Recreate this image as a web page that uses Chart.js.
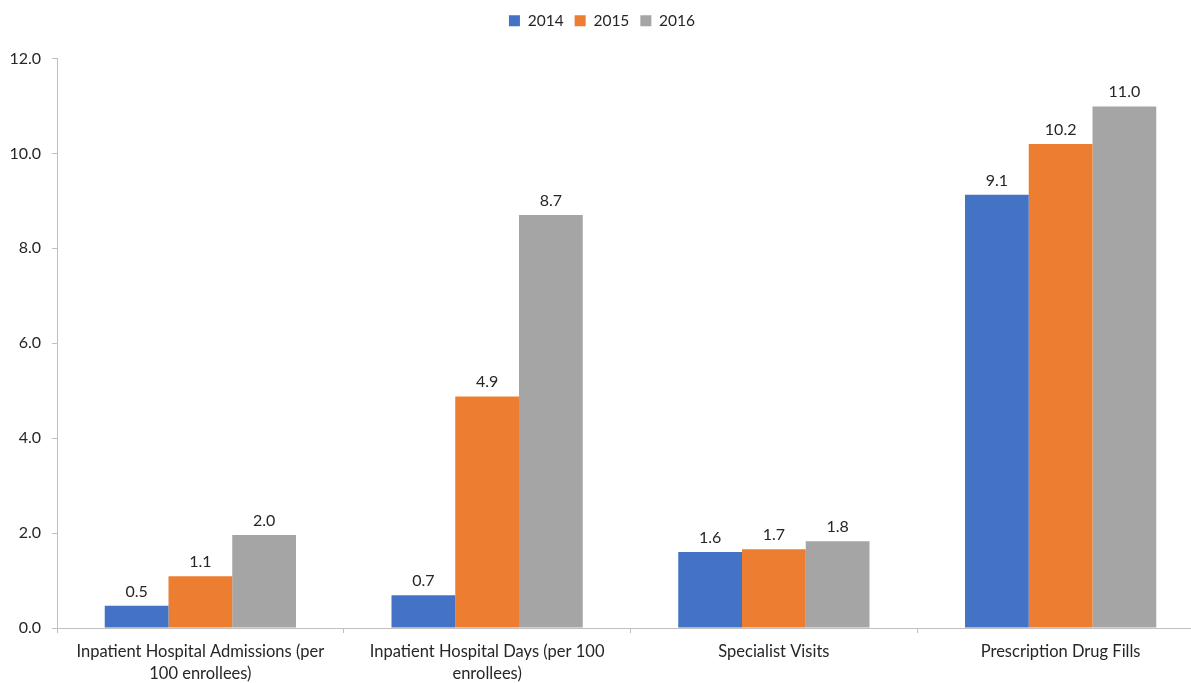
<!DOCTYPE html>
<html>
<head>
<meta charset="utf-8">
<script src="https://cdn.jsdelivr.net/npm/chart.js@4/dist/chart.umd.min.js"></script>
<style>
html, body { margin: 0; padding: 0; overflow: hidden; background: #fff; }
#wrap { position: relative; width: 1204px; height: 683px; }
</style>
</head>
<body>
<div id="wrap"><canvas id="c"></canvas></div>
<script>
const categories = [
  ["Inpatient Hospital Admissions (per", "100 enrollees)"],
  ["Inpatient Hospital Days (per 100", "enrollees)"],
  ["Specialist Visits"],
  ["Prescription Drug Fills"]
];
const seriesNames = ["2014", "2015", "2016"];
const values2014 = [0.47, 0.69, 1.60, 9.13];
const values2015 = [1.09, 4.88, 1.66, 10.20];
const values2016 = [1.96, 8.70, 1.83, 10.99];
const yTicks = [0, 2, 4, 6, 8, 10, 12];
const colors = ["#4472C4", "#ED7D31", "#A5A5A5"];

const FONT = "Lato, 'Open Sans', sans-serif";
const TEXT = "#262626";

const dataLabels = {
  id: 'dataLabels',
  afterDatasetsDraw(chart) {
    const ctx = chart.ctx;
    ctx.save();
    ctx.font = "16px " + FONT;
    ctx.fillStyle = TEXT;
    ctx.textAlign = 'center';
    ctx.textBaseline = 'alphabetic';
    chart.data.datasets.forEach((ds, i) => {
      const meta = chart.getDatasetMeta(i);
      meta.data.forEach((el, j) => {
        ctx.fillText(ds.data[j].toFixed(1), el.x, el.y - 9);
      });
    });
    ctx.restore();
  }
};

const legendSpace = {
  id: 'legendSpace',
  afterInit(chart) {
    const lg = chart.legend;
    if (lg && !lg._patched) {
      const orig = lg.fit;
      lg.fit = function () { orig.call(this); this.height += 20; };
      lg._patched = true;
    }
  }
};

new Chart(document.getElementById('c'), {
  type: 'bar',
  data: {
    labels: categories,
    datasets: [
      { label: seriesNames[0], data: values2014, backgroundColor: colors[0] },
      { label: seriesNames[1], data: values2015, backgroundColor: colors[1] },
      { label: seriesNames[2], data: values2016, backgroundColor: colors[2] }
    ]
  },
  options: {
    responsive: true,
    maintainAspectRatio: false,
    animation: false,
    layout: { padding: { top: 2, right: 0, left: 0, bottom: 0 } },
    datasets: { bar: { categoryPercentage: 0.667, barPercentage: 1.0 } },
    plugins: {
      legend: {
        position: 'top',
        labels: {
          boxWidth: 11, boxHeight: 11, padding: 11,
          color: TEXT,
          font: { family: FONT, size: 15.5 }
        }
      },
      tooltip: { enabled: false }
    },
    scales: {
      x: {
        offset: true,
        grid: { display: true, offset: true, drawOnChartArea: false, drawTicks: true, tickLength: 5, color: '#BFBFBF' },
        border: { display: true, color: '#BFBFBF', width: 1 },
        ticks: { color: TEXT, font: { family: FONT, size: 16.5, lineHeight: '22px' }, padding: 8, maxRotation: 0, autoSkip: false },
        afterFit(scale) { scale.height = 55; }
      },
      y: {
        min: 0, max: 12,
        afterBuildTicks(scale) { scale.ticks = yTicks.map(v => ({ value: v })); },
        grid: { display: true, drawOnChartArea: false, drawTicks: true, tickLength: 5, color: '#BFBFBF' },
        border: { display: true, color: '#BFBFBF', width: 1 },
        ticks: { color: TEXT, font: { family: FONT, size: 16 }, padding: 11, callback: v => Number(v).toFixed(1) },
        afterFit(scale) { scale.width = 57; }
      }
    }
  },
  plugins: [dataLabels, legendSpace]
});
</script>
</body>
</html>
